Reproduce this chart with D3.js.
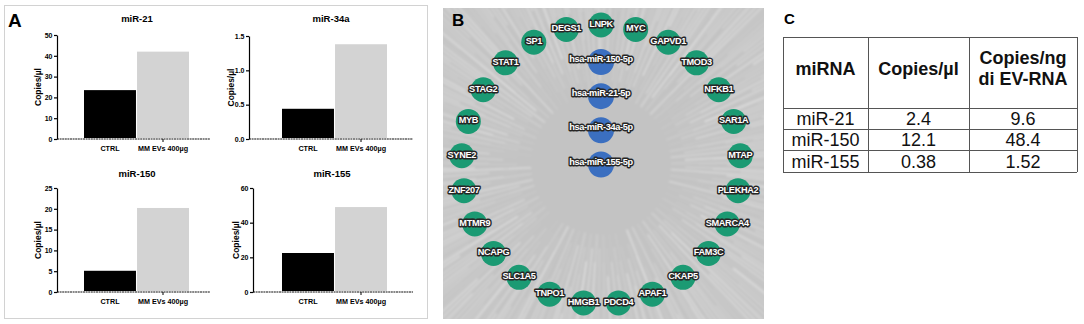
<!DOCTYPE html>
<html>
<head>
<meta charset="utf-8">
<script src="https://cdn.jsdelivr.net/npm/d3@7"></script>
<style>
  body { margin: 0; background: #fff; }
  svg { font-family: Arial, "Liberation Sans", sans-serif; display: block; }
</style>
</head>
<body>
<svg id="fig" width="1084" height="324"></svg>
<script>
// ---- data ----
const groups = ['CTRL', 'MM EVs 400µg'];
const mir21Values = [23.5, 42];
const mir34aValues = [0.44, 1.38];
const mir150Values = [5.1, 20.2];
const mir155Values = [22.5, 49];
const mir21Ticks = [0, 10, 20, 30, 40, 50];
const mir34aTicks = [0, 0.5, 1.0, 1.5];
const mir150Ticks = [0, 5, 10, 15, 20, 25];
const mir155Ticks = [0, 20, 40, 60];

const mirnaNodes = ['hsa-miR-150-5p', 'hsa-miR-21-5p', 'hsa-miR-34a-5p', 'hsa-miR-155-5p'];
const targetNodes = ['LNPK', 'MYC', 'GAPVD1', 'TMOD3', 'NFKB1', 'SAR1A', 'MTAP', 'PLEKHA2',
  'SMARCA4', 'FAM3C', 'CKAP5', 'APAF1', 'PDCD4', 'HMGB1', 'TNPO1', 'SLC1A5', 'NCAPG',
  'MTMR9', 'ZNF207', 'SYNE2', 'MYB', 'STAG2', 'STAT1', 'SP1', 'DEGS1'];

const tableHeader = ['miRNA', 'Copies/µl', 'Copies/ng|di EV-RNA'];
const tableMirna = ['miR-21', 'miR-150', 'miR-155'];
const tableCopiesUl = [2.4, 12.1, 0.38];
const tableCopiesNg = [9.6, 48.4, 1.52];

const svg = d3.select('#fig');

// ---- panel A ----
svg.append('rect')
  .attr('x', 4.5).attr('y', 5.5).attr('width', 423).attr('height', 313)
  .attr('fill', 'none').attr('stroke', '#d2d2d2');

svg.append('text').attr('x', 8).attr('y', 27)
  .attr('font-size', 19).attr('font-weight', 'bold').text('A');

const charts = [
  { title: 'miR-21', values: mir21Values, ticks: mir21Ticks, fmt: d3.format('d'),
    axisX: 57, top: 35, bottom: 139, bars: [84, 189], end: 210, titleX: 137, titleY: 22, labelX: 41 },
  { title: 'miR-34a', values: mir34aValues, ticks: mir34aTicks, fmt: d3.format('.1f'),
    axisX: 249, top: 36, bottom: 139, bars: [282, 387], end: 413, titleX: 331, titleY: 22, labelX: 234 },
  { title: 'miR-150', values: mir150Values, ticks: mir150Ticks, fmt: d3.format('d'),
    axisX: 57, top: 188, bottom: 292, bars: [84, 189], end: 210, titleX: 137, titleY: 177, labelX: 41 },
  { title: 'miR-155', values: mir155Values, ticks: mir155Ticks, fmt: d3.format('d'),
    axisX: 253, top: 188, bottom: 292, bars: [282, 387], end: 413, titleX: 332, titleY: 177, labelX: 239 }
];

const barColors = ['#000000', '#d3d3d3'];

charts.forEach(c => {
  const g = svg.append('g');
  const y = d3.scaleLinear()
    .domain([0, d3.max(c.ticks)])
    .range([c.bottom, c.top]);
  const x = d3.scaleBand()
    .domain(groups)
    .range(c.bars)
    .paddingInner(0.02);

  g.selectAll('rect.bar')
    .data(c.values)
    .enter()
    .append('rect')
    .attr('class', 'bar')
    .attr('x', (d, i) => x(groups[i]))
    .attr('y', d => y(d))
    .attr('width', x.bandwidth())
    .attr('height', d => y(0) - y(d) - 1)
    .attr('fill', (d, i) => barColors[i]);

  const yAxis = d3.axisLeft(y)
    .tickValues(c.ticks)
    .tickFormat(c.fmt)
    .tickSizeInner(3)
    .tickSizeOuter(0)
    .tickPadding(1.5);

  const ax = g.append('g')
    .attr('transform', `translate(${c.axisX},0)`)
    .call(yAxis);
  ax.selectAll('path, line').attr('stroke', '#000').attr('stroke-width', 1.2);
  ax.selectAll('text')
    .attr('font-size', 7).attr('font-weight', 'bold')
    .attr('font-family', 'Arial, "Liberation Sans", sans-serif')
    .attr('fill', '#000');

  // baseline
  g.append('line')
    .attr('x1', c.axisX).attr('x2', c.end)
    .attr('y1', y(0)).attr('y2', y(0))
    .attr('stroke', '#111').attr('stroke-width', 1.2)
    .attr('stroke-dasharray', '2,0.6');
  g.append('line')
    .attr('x1', x(groups[1]) + x.bandwidth() / 2).attr('x2', x(groups[1]) + x.bandwidth() / 2)
    .attr('y1', y(0)).attr('y2', y(0) + 3)
    .attr('stroke', '#000');

  g.selectAll('text.grp')
    .data(groups)
    .enter()
    .append('text')
    .attr('class', 'grp')
    .attr('x', d => x(d) + x.bandwidth() / 2)
    .attr('y', y(0) + 12)
    .attr('text-anchor', 'middle')
    .attr('font-size', 7.2).attr('font-weight', 'bold')
    .attr('fill', '#000')
    .text(d => d);

  g.append('text')
    .attr('x', c.titleX).attr('y', c.titleY)
    .attr('text-anchor', 'middle')
    .attr('font-size', 9.5).attr('font-weight', 'bold')
    .text(c.title);

  g.append('text')
    .attr('transform', `translate(${c.labelX},${(c.top + c.bottom) / 2}) rotate(-90)`)
    .attr('text-anchor', 'middle')
    .attr('font-size', 8.5).attr('font-weight', 'bold')
    .text('Copies/µl');
});

// ---- panel B ----
const bx = 443, by = 8, bw = 321, bh = 311;
const cx = 601, cy = 164.5, rad = 139.5;

const defs = svg.append('defs');
defs.append('clipPath').attr('id', 'clipB')
  .append('rect').attr('x', bx).attr('y', by).attr('width', bw).attr('height', bh);
defs.append('filter').attr('id', 'soft')
  .attr('x', '-20%').attr('y', '-20%').attr('width', '140%').attr('height', '140%')
  .append('feGaussianBlur').attr('stdDeviation', 1.1);

const gb = svg.append('g');
gb.append('rect')
  .attr('x', bx).attr('y', by).attr('width', bw).attr('height', bh)
  .attr('fill', '#c3c3c3');

// decorative streaks radiating from the network centre
const rays = d3.range(0, 360, 0.55);
const toRad = a => a * Math.PI / 180;
gb.append('g')
  .attr('clip-path', 'url(#clipB)')
  .append('g')
  .attr('filter', 'url(#soft)')
  .selectAll('line')
  .data(rays)
  .enter()
  .append('line')
  .attr('x1', (a, i) => cx + (70 + (i * 11 % 9) * 14) * Math.sin(toRad(a)))
  .attr('y1', (a, i) => cy - (70 + (i * 11 % 9) * 14) * Math.cos(toRad(a)))
  .attr('x2', (a, i) => cx + (230 + (i * 7 % 5) * 25) * Math.sin(toRad(a)))
  .attr('y2', (a, i) => cy - (230 + (i * 7 % 5) * 25) * Math.cos(toRad(a)))
  .attr('stroke', '#fff')
  .attr('stroke-width', (a, i) => 0.5 + (i * 3 % 5) * 0.3)
  .attr('stroke-opacity', (a, i) => 0.04 + (i * 5 % 11) * 0.035);

const angle = d3.scaleLinear()
  .domain([0, targetNodes.length])
  .range([0, 2 * Math.PI]);
const mirY = d3.scalePoint()
  .domain(mirnaNodes)
  .range([62, cy]);

const labelStyle = sel => sel
  .attr('text-anchor', 'middle')
  .attr('dominant-baseline', 'central')
  .attr('font-size', 9.2)
  .attr('font-weight', 'bold')
  .attr('letter-spacing', -0.35)
  .attr('fill', '#fff')
  .attr('stroke', '#262626')
  .attr('stroke-width', 2.8)
  .attr('stroke-linejoin', 'round')
  .attr('paint-order', 'stroke');

const tn = gb.selectAll('g.target')
  .data(targetNodes)
  .enter()
  .append('g')
  .attr('class', 'target')
  .attr('transform', (d, i) => `translate(${cx + rad * Math.sin(angle(i))},${cy - rad * Math.cos(angle(i))})`);
tn.append('circle').attr('r', 12.5).attr('fill', '#1b9a73');
tn.append('text').attr('y', -1).text(d => d).call(labelStyle);

const mn = gb.selectAll('g.mirna')
  .data(mirnaNodes)
  .enter()
  .append('g')
  .attr('class', 'mirna')
  .attr('transform', d => `translate(${cx},${mirY(d)})`);
mn.append('circle').attr('r', 13).attr('fill', '#3b6fc0');
mn.append('text').attr('y', -3).text(d => d).call(labelStyle);

svg.append('text').attr('x', 452).attr('y', 26)
  .attr('font-size', 17).attr('font-weight', 'bold').text('B');

// ---- panel C ----
svg.append('text').attr('x', 784).attr('y', 24)
  .attr('font-size', 15).attr('font-weight', 'bold').text('C');

const colEdges = [783, 868, 969, 1077];
const rowEdges = [37, 108, 129, 150, 172];
const gc = svg.append('g');

gc.selectAll('line.row')
  .data(rowEdges)
  .enter()
  .append('line')
  .attr('x1', colEdges[0]).attr('x2', colEdges[3])
  .attr('y1', d => d + 0.5).attr('y2', d => d + 0.5)
  .attr('stroke', '#555');
gc.selectAll('line.col')
  .data(colEdges)
  .enter()
  .append('line')
  .attr('x1', d => d + 0.5).attr('x2', d => d + 0.5)
  .attr('y1', rowEdges[0]).attr('y2', rowEdges[4])
  .attr('stroke', '#555');

const colMid = i => (colEdges[i] + colEdges[i + 1]) / 2;

tableHeader.forEach((h, i) => {
  const lines = h.split('|');
  const t = gc.append('text')
    .attr('x', colMid(i))
    .attr('text-anchor', 'middle')
    .attr('font-size', 18).attr('font-weight', 'bold')
    .attr('fill', '#111');
  if (lines.length === 1) {
    t.attr('y', 75).text(lines[0]);
  } else {
    t.attr('y', 64).text(lines[0]);
    gc.append('text')
      .attr('x', colMid(i)).attr('y', 85)
      .attr('text-anchor', 'middle')
      .attr('font-size', 18).attr('font-weight', 'bold')
      .attr('fill', '#111')
      .text(lines[1]);
  }
});

const tableCols = [tableMirna, tableCopiesUl, tableCopiesNg];
tableCols.forEach((col, i) => {
  gc.selectAll(null)
    .data(col)
    .enter()
    .append('text')
    .attr('x', colMid(i))
    .attr('y', (d, r) => (rowEdges[r + 1] + rowEdges[r + 2]) / 2 + 6.5)
    .attr('text-anchor', 'middle')
    .attr('font-size', 18)
    .attr('fill', '#111')
    .text(d => String(d));
});
</script>
</body>
</html>
